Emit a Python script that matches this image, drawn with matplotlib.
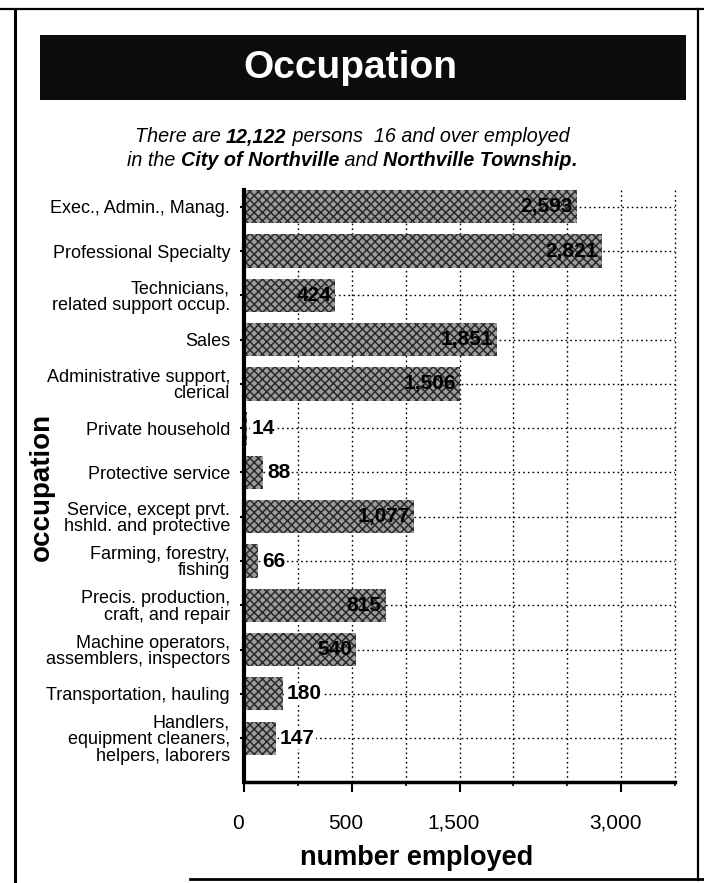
import numpy as np
import matplotlib
matplotlib.use("Agg")
import matplotlib.pyplot as plt
from matplotlib.patches import Rectangle
from matplotlib.lines import Line2D

plt.rcParams['font.family'] = ['Liberation Sans', 'DejaVu Sans']
plt.rcParams['hatch.linewidth'] = 1.1

# ---------------- data ----------------
categories = [
    "Exec., Admin., Manag.",
    "Professional Specialty",
    "Technicians,\nrelated support occup.",
    "Sales",
    "Administrative support,\nclerical",
    "Private household",
    "Protective service",
    "Service, except prvt.\nhshld. and protective",
    "Farming, forestry,\nfishing",
    "Precis. production,\ncraft, and repair",
    "Machine operators,\nassemblers, inspectors",
    "Transportation, hauling",
    "Handlers,\nequipment cleaners,\nhelpers, laborers",
]
values = [2593, 2821, 424, 1851, 1506, 14, 88, 1077, 66, 815, 540, 180, 147]
value_labels = ["2,593", "2,821", "424", "1,851", "1,506", "14", "88",
                "1,077", "66", "815", "540", "180", "147"]
grid_breaks = [0, 250, 500, 1000, 1500, 2000, 2500, 3000, 3500]
tick_values = [0, 500, 1500, 3000]
tick_labels = ["0", "500", "1,500", "3,000"]

W, H = 704, 883
fig = plt.figure(figsize=(W / 100, H / 100), dpi=100)

def fx(px):
    return px / W

def fy(py):
    return 1 - py / H

# ---------------- frame ----------------
fig.add_artist(Line2D([0, 1], [fy(9), fy(9)], transform=fig.transFigure, color='black', lw=1.6))
fig.add_artist(Line2D([fx(15), fx(15)], [fy(9), 0], transform=fig.transFigure, color='black', lw=2.2))
fig.add_artist(Line2D([fx(698), fx(698)], [fy(9), fy(880)], transform=fig.transFigure, color='black', lw=1.6))
fig.add_artist(Line2D([fx(190), 1], [fy(879), fy(879)], transform=fig.transFigure, color='black', lw=2.0))

# ---------------- banner ----------------
fig.add_artist(Rectangle((fx(40), fy(100)), fx(686) - fx(40), fy(35) - fy(100),
                         transform=fig.transFigure, facecolor='#0c0c0c', edgecolor='none'))
fig.text(fx(350), fy(68), "Occupation", color='white', fontsize=28, fontweight='bold',
         ha='center', va='center')

# ---------------- subtitle with mixed weights ----------------
renderer = fig.canvas.get_renderer()

def segmented_line(y_px, segs, size, cx_px):
    texts = []
    for s, w in segs:
        t = fig.text(0, fy(y_px), s, fontsize=size, style='italic', fontweight=w,
                     ha='left', va='center')
        texts.append(t)
    widths = [t.get_window_extent(renderer).width for t in texts]
    total = sum(widths)
    x = cx_px - total / 2
    for t, w in zip(texts, widths):
        t.set_x(fx(x))
        x += w

segmented_line(137, [("There are ", 'normal'), ("12,122", 'bold'),
                     (" persons  16 and over employed", 'normal')], 14.2, 352)
segmented_line(160, [("in the ", 'normal'), ("City of Northville", 'bold'),
                     (" and ", 'normal'), ("Northville Township", 'bold'),
                     (".", 'bold')], 14.2, 352)

# ---------------- axes ----------------
ax = fig.add_axes([fx(244), fy(782), fx(675) - fx(244), fy(190) - fy(782)])

idx = np.arange(len(grid_breaks), dtype=float)
bk = np.array(grid_breaks, dtype=float)

def fwd(x):
    return np.interp(x, bk, idx)

def inv(u):
    return np.interp(u, idx, bk)

ax.set_xscale('function', functions=(fwd, inv))
ax.set_xlim(0, grid_breaks[-1])
y = np.arange(len(categories))
ax.set_ylim(12.99, -0.38)

dot = (0, (1.2, 2.2))
for g in grid_breaks[1:]:
    ax.axvline(g, color='black', lw=1.0, ls=dot, zorder=0, clip_on=False)
for yy in y:
    ax.axhline(yy, color='black', lw=1.0, ls=dot, zorder=0)

ax.barh(y, values, height=0.75, facecolor='#9c9c9c', edgecolor='#2a2a2a',
        hatch='xxxx', linewidth=0, zorder=2)

for yy, v, lab in zip(y, values, value_labels):
    if v >= 400:
        ax.annotate(lab, (v, yy), xytext=(-3, 0), textcoords='offset points',
                    ha='right', va='center', fontsize=15, fontweight='bold', zorder=4)
    else:
        ax.annotate(lab, (v, yy), xytext=(3, 0), textcoords='offset points',
                    ha='left', va='center', fontsize=15, fontweight='bold', zorder=4,
                    bbox=dict(boxstyle='square,pad=0.05', fc='white', ec='none'))

ax.set_yticks(y)
ax.set_yticklabels(categories, fontsize=13, linespacing=0.95)
ax.tick_params(axis='y', length=3, width=1.5, pad=7)

ax.set_xticks(tick_values)
ax.set_xticklabels(tick_labels, fontsize=15)
ax.set_xticks([g for g in grid_breaks if g not in tick_values], minor=True)
ax.xaxis.set_minor_formatter(matplotlib.ticker.NullFormatter())
ax.tick_params(axis='x', which='major', length=7, width=1.5, pad=16)
ax.tick_params(axis='x', which='minor', length=3, width=1.2)
for lab in ax.get_xticklabels():
    lab.set_transform(lab.get_transform() + matplotlib.transforms.ScaledTranslation(-6 / 100, 0, fig.dpi_scale_trans))

ax.spines['top'].set_visible(False)
ax.spines['right'].set_visible(False)
ax.spines['left'].set_linewidth(3)
ax.spines['bottom'].set_linewidth(2.5)
ax.set_facecolor('none')

fig.text(fx(42), fy(487), "occupation", rotation=90, fontsize=20, fontweight='bold',
         ha='center', va='center')
fig.text(fx(417), fy(858), "number employed", fontsize=19.5, fontweight='bold',
         ha='center', va='center')

fig.savefig("out.png", dpi=100)
